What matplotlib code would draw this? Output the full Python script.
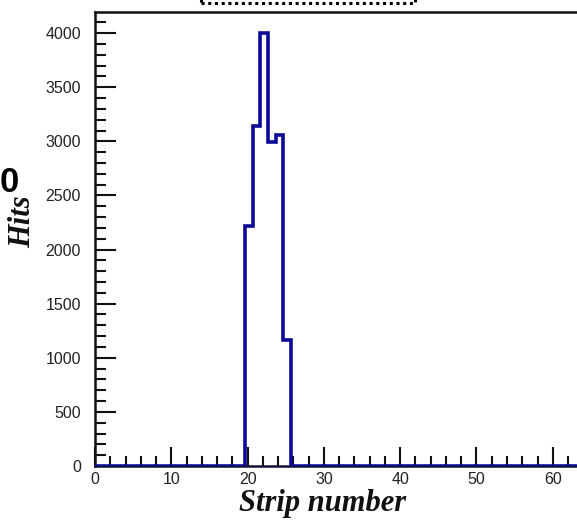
import numpy as np
import matplotlib
matplotlib.use("Agg")
import matplotlib.pyplot as plt
from matplotlib.patches import Rectangle
from matplotlib.ticker import MultipleLocator

# Hits per strip (64 strips)
strips = np.arange(64)
hits = np.zeros(64)
hit_strips = [20, 21, 22, 23, 24, 25]
hit_counts = [2220, 3140, 4000, 2995, 3060, 1165]
hits[hit_strips] = hit_counts

x_ticks = [0, 10, 20, 30, 40, 50, 60]
y_ticks = [0, 500, 1000, 1500, 2000, 2500, 3000, 3500, 4000]

W, H = 577, 522
fig = plt.figure(figsize=(W / 100, H / 100), dpi=100)

ax_left, ax_top, ax_bottom = 95, 12, 466
x_min, x_max = 0.0, 64.0
px_per_unit = 7.63
ax_right = ax_left + (x_max - x_min) * px_per_unit
ax = fig.add_axes([ax_left / W, (H - ax_bottom) / H,
                   (ax_right - ax_left) / W, (ax_bottom - ax_top) / H])

# bin edges of the strip histogram
edges = np.append(strips - 0.33, strips[-1] + 0.67)
ax.stairs(hits, edges, color="#0b0b96", lw=2.6, zorder=3)

ax.set_xlim(x_min, x_max)
ax.set_ylim(0, 4195)
ax.set_xticks(x_ticks)
ax.set_yticks(y_ticks)
ax.xaxis.set_minor_locator(MultipleLocator(2))
ax.yaxis.set_minor_locator(MultipleLocator(100))

for s in ["left", "top"]:
    ax.spines[s].set_linewidth(1.8)
    ax.spines[s].set_color("#111111")
ax.spines["bottom"].set_linewidth(1.8)
ax.spines["bottom"].set_color("#111133")
ax.spines["right"].set_visible(False)

ax.tick_params(axis="both", which="both", direction="in", color="#111111",
               width=1.5, top=False, right=False, labelcolor="#222222")
ax.tick_params(axis="x", which="major", length=14, pad=4)
ax.tick_params(axis="x", which="minor", length=7)
ax.tick_params(axis="y", which="major", length=15, pad=10)
ax.tick_params(axis="y", which="minor", length=8)
for lab in ax.get_xticklabels() + ax.get_yticklabels():
    lab.set_fontfamily("Liberation Sans")
    lab.set_fontsize(11.5)

# Axis titles in bold italic serif
title_font = dict(family="Liberation Serif", weight="bold", style="italic",
                  size=22, color="#111111")
fig.text(323 / W, 1 - 511 / H, "Strip number", ha="center", va="baseline",
         **title_font)
fig.text(23 / W, 1 - 222 / H, "Hits", ha="center", va="center",
         rotation=90, **title_font)

# Fragment of a neighbouring panel label
fig.text(19 / W, 1 - 192 / H, "0", ha="right", va="baseline",
         family="Liberation Sans", weight="bold", size=25, color="black")

# Dotted title box at the top edge
fig.add_artist(Rectangle((201 / W, 1 - 3 / H), (415 - 201) / W, 20 / H,
                         transform=fig.transFigure, fill=False,
                         ls=(0, (1, 1.2)), lw=2.2, ec="black"))

fig.savefig("out.png", dpi=100, facecolor="white")
